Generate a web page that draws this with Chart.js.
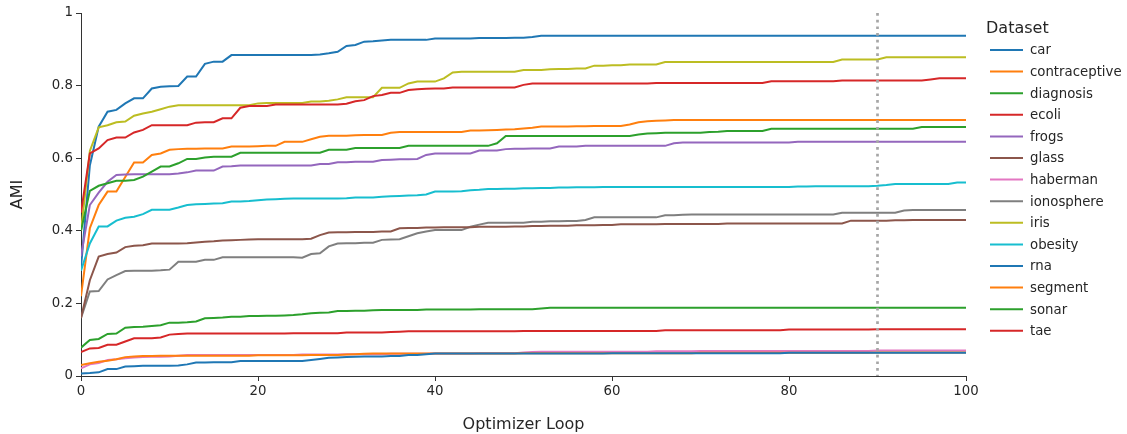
<!DOCTYPE html>
<html>
<head>
<meta charset="utf-8">
<script src="https://cdn.jsdelivr.net/npm/chart.js@4.4.0/dist/chart.umd.min.js"></script>
<style>
  body { margin: 0; background: #fff; }
</style>
</head>
<body>
<canvas id="amiChart" width="1127" height="434"></canvas>
<script>
// optimizer loop index 0..100
const loops = Array.from({ length: 101 }, (_, i) => i);

const xTicks = [0, 20, 40, 60, 80, 100];
const yTicks = [0, 0.2, 0.4, 0.6, 0.8, 1];
const markerLoop = 90;

const car = [
  0.007, 0.008, 0.010, 0.019, 0.019, 0.026, 0.027, 0.028, 0.028, 0.028,
  0.028, 0.029, 0.032, 0.037, 0.037, 0.038, 0.038, 0.038, 0.041, 0.041,
  0.041, 0.041, 0.041, 0.041, 0.041, 0.041, 0.044, 0.047, 0.050, 0.051,
  0.052, 0.053, 0.054, 0.054, 0.054, 0.055, 0.055, 0.058, 0.058, 0.060,
  0.062, 0.062, 0.062, 0.062, 0.062, 0.062, 0.062, 0.062, 0.062, 0.062,
  0.062, 0.062, 0.062, 0.062, 0.062, 0.062, 0.062, 0.062, 0.062, 0.062,
  0.063, 0.063, 0.063, 0.063, 0.063, 0.063, 0.063, 0.063, 0.063, 0.063,
  0.063, 0.063, 0.063, 0.063, 0.063, 0.063, 0.063, 0.063, 0.063, 0.063,
  0.064, 0.064, 0.064, 0.064, 0.064, 0.064, 0.064, 0.064, 0.064, 0.064,
  0.064, 0.064, 0.064, 0.064, 0.064, 0.064, 0.064, 0.064, 0.064, 0.064,
  0.064
];
const contraceptive = [
  0.030, 0.035, 0.039, 0.042, 0.046, 0.052, 0.054, 0.055, 0.055, 0.056,
  0.056, 0.056, 0.056, 0.056, 0.056, 0.056, 0.056, 0.056, 0.056, 0.056,
  0.057, 0.057, 0.057, 0.057, 0.057, 0.057, 0.058, 0.058, 0.058, 0.058,
  0.059, 0.060, 0.061, 0.062, 0.062, 0.062, 0.062, 0.062, 0.062, 0.062,
  0.062, 0.062, 0.062, 0.062, 0.062, 0.062, 0.062, 0.062, 0.062, 0.062,
  0.063, 0.063, 0.063, 0.063, 0.063, 0.063, 0.063, 0.063, 0.063, 0.063,
  0.063, 0.063, 0.063, 0.063, 0.063, 0.063, 0.063, 0.063, 0.063, 0.063,
  0.064, 0.064, 0.064, 0.064, 0.064, 0.064, 0.064, 0.064, 0.064, 0.064,
  0.064, 0.064, 0.064, 0.064, 0.064, 0.064, 0.064, 0.064, 0.064, 0.064,
  0.065, 0.065, 0.065, 0.065, 0.065, 0.065, 0.065, 0.065, 0.065, 0.065,
  0.065
];
const diagnosis = [
  0.400, 0.510, 0.524, 0.531, 0.538, 0.538, 0.540, 0.549, 0.563, 0.577,
  0.577, 0.586, 0.598, 0.598, 0.602, 0.604, 0.604, 0.604, 0.615, 0.615,
  0.615, 0.615, 0.615, 0.615, 0.615, 0.615, 0.615, 0.615, 0.623, 0.623,
  0.623, 0.628, 0.628, 0.628, 0.628, 0.628, 0.628, 0.634, 0.634, 0.634,
  0.634, 0.634, 0.634, 0.634, 0.634, 0.634, 0.634, 0.641, 0.661, 0.661,
  0.661, 0.661, 0.661, 0.661, 0.661, 0.661, 0.661, 0.661, 0.661, 0.661,
  0.661, 0.661, 0.661, 0.665, 0.668, 0.669, 0.670, 0.670, 0.670, 0.670,
  0.670, 0.672, 0.673, 0.675, 0.675, 0.675, 0.675, 0.675, 0.681, 0.681,
  0.681, 0.681, 0.681, 0.681, 0.681, 0.681, 0.681, 0.681, 0.681, 0.681,
  0.681, 0.681, 0.681, 0.681, 0.681, 0.686, 0.686, 0.686, 0.686, 0.686,
  0.686
];
const ecoli = [
  0.450, 0.613, 0.627, 0.650, 0.657, 0.657, 0.671, 0.678, 0.691, 0.691,
  0.691, 0.691, 0.691, 0.698, 0.699, 0.699, 0.710, 0.710, 0.739, 0.744,
  0.744, 0.744, 0.748, 0.748, 0.748, 0.748, 0.748, 0.748, 0.748, 0.748,
  0.750, 0.757, 0.760, 0.771, 0.774, 0.780, 0.780, 0.788, 0.790, 0.791,
  0.792, 0.792, 0.795, 0.795, 0.795, 0.795, 0.795, 0.795, 0.795, 0.795,
  0.802, 0.806, 0.806, 0.806, 0.806, 0.806, 0.806, 0.806, 0.806, 0.806,
  0.806, 0.806, 0.806, 0.806, 0.806, 0.807, 0.807, 0.807, 0.807, 0.807,
  0.807, 0.807, 0.807, 0.807, 0.807, 0.807, 0.807, 0.807, 0.812, 0.812,
  0.812, 0.812, 0.812, 0.812, 0.812, 0.812, 0.814, 0.814, 0.814, 0.814,
  0.814, 0.814, 0.814, 0.814, 0.814, 0.814, 0.817, 0.820, 0.820, 0.820,
  0.820
];
const frogs = [
  0.330, 0.471, 0.505, 0.535, 0.554, 0.555, 0.556, 0.556, 0.556, 0.556,
  0.556, 0.558, 0.561, 0.566, 0.566, 0.566, 0.577, 0.578, 0.580, 0.580,
  0.580, 0.580, 0.580, 0.580, 0.580, 0.580, 0.580, 0.584, 0.584, 0.589,
  0.589, 0.590, 0.590, 0.590, 0.595, 0.596, 0.597, 0.597, 0.598, 0.609,
  0.613, 0.613, 0.613, 0.613, 0.613, 0.621, 0.621, 0.621, 0.625, 0.626,
  0.626, 0.627, 0.627, 0.627, 0.632, 0.632, 0.632, 0.634, 0.634, 0.634,
  0.634, 0.634, 0.634, 0.634, 0.634, 0.634, 0.634, 0.641, 0.643, 0.643,
  0.643, 0.643, 0.643, 0.643, 0.643, 0.643, 0.643, 0.643, 0.643, 0.643,
  0.643, 0.645, 0.645, 0.645, 0.645, 0.645, 0.645, 0.645, 0.645, 0.645,
  0.645, 0.645, 0.645, 0.645, 0.645, 0.645, 0.645, 0.645, 0.645, 0.645,
  0.645
];
const glass = [
  0.160, 0.264, 0.329, 0.336, 0.340, 0.355, 0.359, 0.360, 0.365, 0.365,
  0.365, 0.365, 0.366, 0.368, 0.370, 0.371, 0.373, 0.374, 0.375, 0.376,
  0.377, 0.377, 0.377, 0.377, 0.377, 0.377, 0.378, 0.388, 0.395, 0.396,
  0.396, 0.397, 0.397, 0.397, 0.398, 0.398, 0.407, 0.408, 0.408, 0.409,
  0.409, 0.410, 0.410, 0.410, 0.410, 0.411, 0.411, 0.411, 0.411, 0.412,
  0.412, 0.413, 0.413, 0.414, 0.414, 0.414, 0.415, 0.415, 0.415, 0.416,
  0.416, 0.418, 0.418, 0.418, 0.418, 0.418, 0.419, 0.419, 0.419, 0.419,
  0.419, 0.419, 0.419, 0.420, 0.420, 0.420, 0.420, 0.420, 0.420, 0.420,
  0.420, 0.420, 0.420, 0.420, 0.420, 0.420, 0.420, 0.428, 0.428, 0.428,
  0.428, 0.428, 0.429, 0.429, 0.430, 0.430, 0.430, 0.430, 0.430, 0.430,
  0.430
];
const haberman = [
  0.021, 0.032, 0.036, 0.044, 0.046, 0.049, 0.051, 0.052, 0.053, 0.053,
  0.054, 0.056, 0.058, 0.058, 0.058, 0.058, 0.058, 0.058, 0.058, 0.058,
  0.058, 0.058, 0.058, 0.058, 0.058, 0.059, 0.059, 0.059, 0.059, 0.059,
  0.060, 0.060, 0.060, 0.060, 0.060, 0.061, 0.061, 0.061, 0.061, 0.061,
  0.062, 0.062, 0.062, 0.062, 0.062, 0.063, 0.063, 0.063, 0.063, 0.063,
  0.065, 0.066, 0.067, 0.067, 0.067, 0.067, 0.067, 0.067, 0.067, 0.067,
  0.067, 0.067, 0.067, 0.067, 0.067, 0.068, 0.068, 0.068, 0.068, 0.068,
  0.069, 0.069, 0.069, 0.069, 0.069, 0.069, 0.069, 0.069, 0.069, 0.069,
  0.069, 0.069, 0.069, 0.069, 0.069, 0.069, 0.069, 0.069, 0.069, 0.069,
  0.070, 0.070, 0.070, 0.070, 0.070, 0.070, 0.070, 0.070, 0.070, 0.070,
  0.070
];
const ionosphere = [
  0.160, 0.233, 0.234, 0.266, 0.278, 0.289, 0.290, 0.290, 0.290, 0.291,
  0.293, 0.315, 0.315, 0.315, 0.320, 0.320, 0.327, 0.327, 0.327, 0.327,
  0.327, 0.327, 0.327, 0.327, 0.327, 0.326, 0.336, 0.338, 0.357, 0.365,
  0.366, 0.366, 0.367, 0.367, 0.375, 0.376, 0.377, 0.385, 0.393, 0.398,
  0.402, 0.402, 0.402, 0.402, 0.411, 0.417, 0.422, 0.422, 0.422, 0.422,
  0.422, 0.425, 0.425, 0.426, 0.426, 0.427, 0.427, 0.430, 0.437, 0.437,
  0.437, 0.437, 0.437, 0.437, 0.437, 0.437, 0.443, 0.443, 0.444, 0.445,
  0.445, 0.445, 0.445, 0.445, 0.445, 0.445, 0.445, 0.445, 0.445, 0.445,
  0.445, 0.445, 0.445, 0.445, 0.445, 0.445, 0.450, 0.450, 0.450, 0.450,
  0.450, 0.450, 0.450, 0.456, 0.457, 0.457, 0.457, 0.457, 0.457, 0.457,
  0.457
];
const iris = [
  0.400, 0.620, 0.685, 0.691, 0.699, 0.701, 0.717, 0.723, 0.728, 0.735,
  0.742, 0.746, 0.746, 0.746, 0.746, 0.746, 0.746, 0.746, 0.746, 0.746,
  0.751, 0.752, 0.752, 0.752, 0.752, 0.752, 0.756, 0.756, 0.758, 0.762,
  0.768, 0.768, 0.768, 0.768, 0.794, 0.794, 0.794, 0.806, 0.811, 0.811,
  0.811, 0.820, 0.836, 0.838, 0.838, 0.838, 0.838, 0.838, 0.838, 0.838,
  0.843, 0.843, 0.843, 0.845, 0.846, 0.846, 0.847, 0.847, 0.855, 0.855,
  0.856, 0.856, 0.858, 0.858, 0.858, 0.858, 0.865, 0.865, 0.865, 0.865,
  0.865, 0.865, 0.865, 0.865, 0.865, 0.865, 0.865, 0.865, 0.865, 0.865,
  0.865, 0.865, 0.865, 0.865, 0.865, 0.865, 0.872, 0.872, 0.872, 0.872,
  0.872, 0.878, 0.878, 0.878, 0.878, 0.878, 0.878, 0.878, 0.878, 0.878,
  0.878
];
const obesity = [
  0.290, 0.365, 0.412, 0.412, 0.428, 0.436, 0.439, 0.446, 0.458, 0.458,
  0.458, 0.464, 0.471, 0.473, 0.474, 0.475, 0.476, 0.481, 0.481, 0.482,
  0.484, 0.486, 0.487, 0.488, 0.489, 0.489, 0.489, 0.489, 0.489, 0.489,
  0.490, 0.492, 0.492, 0.492, 0.494, 0.495, 0.496, 0.497, 0.498, 0.500,
  0.508, 0.508, 0.508, 0.509, 0.512, 0.513, 0.515, 0.515, 0.516, 0.516,
  0.517, 0.517, 0.518, 0.518, 0.519, 0.519, 0.520, 0.520, 0.520, 0.521,
  0.521, 0.521, 0.521, 0.521, 0.521, 0.521, 0.521, 0.521, 0.521, 0.521,
  0.521, 0.521, 0.521, 0.521, 0.521, 0.521, 0.521, 0.521, 0.521, 0.521,
  0.521, 0.522, 0.522, 0.523, 0.523, 0.523, 0.523, 0.523, 0.523, 0.523,
  0.524, 0.526, 0.529, 0.529, 0.529, 0.529, 0.529, 0.529, 0.529, 0.533,
  0.533
];
const rna = [
  0.300, 0.580, 0.687, 0.728, 0.733, 0.751, 0.765, 0.765, 0.792, 0.797,
  0.798, 0.799, 0.825, 0.825, 0.860, 0.866, 0.866, 0.884, 0.884, 0.884,
  0.884, 0.884, 0.884, 0.884, 0.884, 0.884, 0.884, 0.886, 0.889, 0.893,
  0.909, 0.912, 0.921, 0.922, 0.924, 0.926, 0.926, 0.926, 0.926, 0.926,
  0.930, 0.930, 0.930, 0.930, 0.930, 0.931, 0.931, 0.931, 0.931, 0.932,
  0.932, 0.934, 0.937, 0.937, 0.937, 0.937, 0.937, 0.937, 0.937, 0.937,
  0.937, 0.937, 0.937, 0.937, 0.937, 0.937, 0.937, 0.937, 0.937, 0.937,
  0.937, 0.937, 0.937, 0.937, 0.937, 0.937, 0.937, 0.937, 0.937, 0.937,
  0.937, 0.937, 0.937, 0.937, 0.937, 0.937, 0.937, 0.937, 0.937, 0.937,
  0.937, 0.937, 0.937, 0.937, 0.937, 0.937, 0.937, 0.937, 0.937, 0.937,
  0.937
];
const segment = [
  0.220, 0.407, 0.471, 0.508, 0.508, 0.548, 0.588, 0.588, 0.609, 0.613,
  0.623, 0.625, 0.626, 0.626, 0.627, 0.627, 0.627, 0.632, 0.632, 0.632,
  0.633, 0.634, 0.634, 0.645, 0.645, 0.645, 0.652, 0.659, 0.662, 0.662,
  0.662, 0.663, 0.664, 0.664, 0.664, 0.670, 0.672, 0.672, 0.672, 0.672,
  0.672, 0.672, 0.672, 0.672, 0.676, 0.676, 0.677, 0.678, 0.679, 0.680,
  0.682, 0.684, 0.687, 0.687, 0.687, 0.687, 0.688, 0.688, 0.689, 0.689,
  0.689, 0.689, 0.693, 0.699, 0.702, 0.703, 0.704, 0.705, 0.705, 0.705,
  0.705, 0.705, 0.705, 0.705, 0.705, 0.705, 0.705, 0.705, 0.705, 0.705,
  0.705, 0.705, 0.705, 0.705, 0.705, 0.705, 0.705, 0.705, 0.705, 0.705,
  0.705, 0.705, 0.705, 0.705, 0.705, 0.705, 0.705, 0.705, 0.705, 0.705,
  0.705
];
const sonar = [
  0.078, 0.099, 0.102, 0.116, 0.117, 0.133, 0.135, 0.136, 0.138, 0.140,
  0.147, 0.147, 0.148, 0.150, 0.159, 0.160, 0.161, 0.163, 0.163, 0.165,
  0.165, 0.166, 0.166, 0.167, 0.168, 0.170, 0.173, 0.174, 0.175, 0.179,
  0.179, 0.180, 0.180, 0.181, 0.182, 0.182, 0.182, 0.182, 0.182, 0.183,
  0.183, 0.183, 0.183, 0.183, 0.183, 0.184, 0.184, 0.184, 0.184, 0.184,
  0.184, 0.184, 0.186, 0.188, 0.188, 0.188, 0.188, 0.188, 0.188, 0.188,
  0.188, 0.188, 0.188, 0.188, 0.188, 0.188, 0.188, 0.188, 0.188, 0.188,
  0.188, 0.188, 0.188, 0.188, 0.188, 0.188, 0.188, 0.188, 0.188, 0.188,
  0.188, 0.188, 0.188, 0.188, 0.188, 0.188, 0.188, 0.188, 0.188, 0.188,
  0.188, 0.188, 0.188, 0.188, 0.188, 0.188, 0.188, 0.188, 0.188, 0.188,
  0.188
];
const tae = [
  0.066, 0.076, 0.077, 0.086, 0.086, 0.095, 0.104, 0.104, 0.104, 0.106,
  0.114, 0.116, 0.117, 0.117, 0.117, 0.117, 0.117, 0.117, 0.117, 0.117,
  0.117, 0.117, 0.117, 0.117, 0.118, 0.118, 0.118, 0.118, 0.118, 0.118,
  0.120, 0.120, 0.120, 0.120, 0.120, 0.121, 0.122, 0.123, 0.123, 0.123,
  0.123, 0.123, 0.123, 0.123, 0.123, 0.123, 0.123, 0.123, 0.123, 0.123,
  0.124, 0.124, 0.124, 0.124, 0.124, 0.124, 0.124, 0.124, 0.124, 0.124,
  0.124, 0.124, 0.124, 0.124, 0.124, 0.124, 0.126, 0.126, 0.126, 0.126,
  0.126, 0.126, 0.126, 0.126, 0.126, 0.126, 0.126, 0.126, 0.126, 0.126,
  0.128, 0.128, 0.128, 0.128, 0.128, 0.128, 0.128, 0.128, 0.128, 0.128,
  0.129, 0.129, 0.129, 0.129, 0.129, 0.129, 0.129, 0.129, 0.129, 0.129,
  0.129
];

const names = ['car', 'contraceptive', 'diagnosis', 'ecoli', 'frogs', 'glass', 'haberman',
  'ionosphere', 'iris', 'obesity', 'rna', 'segment', 'sonar', 'tae'];
const series = [car, contraceptive, diagnosis, ecoli, frogs, glass, haberman,
  ionosphere, iris, obesity, rna, segment, sonar, tae];

// tab10, wrapping round after ten datasets
const palette = ['#1f77b4', '#ff7f0e', '#2ca02c', '#d62728', '#9467bd',
  '#8c564b', '#e377c2', '#7f7f7f', '#bcbd22', '#17becf'];
const colors = names.map((_, k) => palette[k % palette.length]);

const textColor = '#262626';
const axisColor = '#333333';
const fontFamily = '"DejaVu Sans", sans-serif';

// dotted vertical line at the chosen loop
const markerLine = {
  id: 'markerLine',
  afterDatasetsDraw(chart) {
    const { ctx, chartArea, scales } = chart;
    const x = scales.x.getPixelForValue(markerLoop);
    ctx.save();
    ctx.strokeStyle = '#a6a6a6';
    ctx.lineWidth = 2.7;
    ctx.setLineDash([2.7, 4]);
    ctx.beginPath();
    ctx.moveTo(x, chartArea.top);
    ctx.lineTo(x, chartArea.bottom);
    ctx.stroke();
    ctx.restore();
  }
};

// legend block to the right of the plot
const datasetLegend = {
  id: 'datasetLegend',
  afterDraw(chart) {
    const { ctx, chartArea } = chart;
    const x0 = chartArea.right + 20;
    ctx.save();
    ctx.fillStyle = textColor;
    ctx.textBaseline = 'middle';
    ctx.textAlign = 'left';
    ctx.font = '16px ' + fontFamily;
    ctx.fillText('Dataset', x0, 29);
    ctx.font = '13.3px ' + fontFamily;
    names.forEach((name, k) => {
      const y = 50 + k * 21.6;
      ctx.strokeStyle = colors[k];
      ctx.lineWidth = 2;
      ctx.beginPath();
      ctx.moveTo(x0 + 4, y);
      ctx.lineTo(x0 + 37, y);
      ctx.stroke();
      ctx.fillStyle = textColor;
      ctx.fillText(name, x0 + 44, y + 1);
    });
    ctx.restore();
  }
};

const datasets = names.map((name, k) => ({
  label: name,
  data: series[k].map((v, i) => ({ x: loops[i], y: v })),
  borderColor: colors[k],
  backgroundColor: colors[k],
  borderWidth: 2,
  pointRadius: 0,
  tension: 0,
  fill: false
}));

// "0", "0.2", ..., "1" without trailing zeros
const plainNumber = v => String(Math.round(v * 10) / 10);

new Chart(document.getElementById('amiChart').getContext('2d'), {
  type: 'line',
  data: { datasets: datasets },
  options: {
    responsive: false,
    animation: false,
    layout: { padding: { left: 0, right: 161, top: 13, bottom: 0 } },
    plugins: {
      legend: { display: false },
      tooltip: { enabled: false }
    },
    scales: {
      x: {
        type: 'linear',
        min: 0,
        max: 100,
        afterFit(scale) { scale.height = 58; },
        afterBuildTicks(scale) { scale.ticks = xTicks.map(v => ({ value: v })); },
        grid: { drawOnChartArea: false, color: axisColor, tickLength: 5 },
        border: { color: axisColor, width: 1 },
        ticks: {
          color: textColor,
          padding: 3,
          font: { family: fontFamily, size: 13.3 },
          callback: v => plainNumber(v)
        },
        title: {
          display: true,
          text: 'Optimizer Loop',
          color: textColor,
          padding: { top: 0, bottom: 0 },
          font: { family: fontFamily, size: 16 }
        }
      },
      y: {
        min: 0,
        max: 1,
        afterFit(scale) { scale.width = 81; },
        afterBuildTicks(scale) { scale.ticks = yTicks.map(v => ({ value: v })); },
        grid: { drawOnChartArea: false, color: axisColor, tickLength: 5 },
        border: { color: axisColor, width: 1 },
        ticks: {
          color: textColor,
          padding: 3,
          font: { family: fontFamily, size: 13.3 },
          callback: v => plainNumber(v)
        },
        title: {
          display: true,
          text: 'AMI',
          color: textColor,
          padding: { top: 8, bottom: 0 },
          font: { family: fontFamily, size: 16 }
        }
      }
    }
  },
  plugins: [markerLine, datasetLegend]
});
</script>
</body>
</html>
